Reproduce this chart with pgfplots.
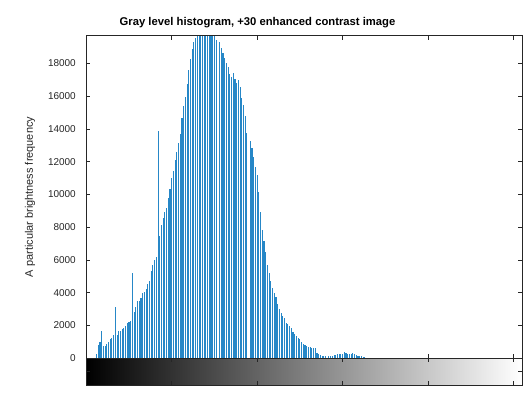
\documentclass[border=0pt]{standalone}
\usepackage{pgfplots}
\pgfplotsset{compat=1.18}
\usepackage{pgfplotstable}
\usepackage{fontspec}
\setmainfont{Liberation Sans}

\definecolor{mblue}{rgb}{0,0.447,0.741}
\definecolor{axgray}{rgb}{0.15,0.15,0.15}

% gray level vs. count
\pgfplotstableread{
g v
0 0
1 0
2 0
3 0
4 0
5 0
6 260
7 790
8 975
9 1680
10 750
11 780
12 900
13 1010
14 1160
15 1240
16 1400
17 3110
18 1440
19 1650
20 1670
21 1790
22 1870
23 1970
24 2130
25 2210
26 2290
27 5200
28 2840
29 3150
30 3510
31 3490
32 3680
33 4000
34 4040
35 4200
36 4530
37 4700
38 5300
39 5690
40 5990
41 6160
42 13860
43 7460
44 8130
45 8530
46 8900
47 9180
48 9800
49 10310
50 11020
51 11420
52 12100
53 12610
54 13120
55 13690
56 14640
57 15400
58 15960
59 16740
60 17590
61 18240
62 18870
63 19280
64 19520
65 19680
66 19680
67 19680
68 19680
69 19680
70 19680
71 19680
72 19680
73 19680
74 19680
75 19680
76 19410
77 0
78 19270
79 18900
80 18640
81 18300
82 17990
83 17750
84 17340
85 17140
86 17380
87 17010
88 16810
89 16970
90 16570
91 15860
92 15450
93 14780
94 13760
95 0
96 13260
97 12810
98 12300
99 11700
100 11180
101 10170
102 8910
103 7830
104 7180
105 6500
106 5690
107 5220
108 4730
109 4270
110 3960
111 3720
112 3310
113 3010
114 2740
115 2580
116 2440
117 2130
118 2090
119 1970
120 1830
121 1630
122 1480
123 1360
124 1220
125 1160
126 1000
127 900
128 820
129 760
130 700
131 660
132 620
133 610
134 600
135 340
136 250
137 190
138 150
139 150
140 150
141 0
142 130
143 130
144 130
145 190
146 190
147 250
148 250
149 250
150 250
151 370
152 330
153 290
154 290
155 250
156 350
157 250
158 190
159 170
160 150
161 130
162 80
163 50
164 20
}\histdata

\begin{document}
\begin{tikzpicture}
\begin{axis}[
    name=main,
    at={(0,0)}, anchor=south west,
    width=435.7bp, height=322.6bp, scale only axis,
    xmin=0, xmax=255, ymin=0, ymax=19680,
    xtick={0,50,...,250}, xticklabels={},
    ytick={0,2000,...,18000},
    scaled y ticks=false,
    yticklabel style={/pgf/number format/1000 sep={}, xshift=-7bp},
    /pgf/number format/assume math mode=true,
    tick align=inside, tick pos=both,
    major tick length=4bp,
    axis line style={axgray, line width=0.5bp},
    tick style={axgray, line width=0.5bp},
    ticklabel style={font=\fontsize{10}{12}\selectfont, text=axgray},
    ylabel={A particular brightness frequency},
    ylabel style={font=\fontsize{11}{13}\selectfont, text=axgray,
        at={(axis description cs:-0.129,0.5)}, anchor=center},
    title={Gray level histogram, +30 enhanced contrast image},
    title style={font=\bfseries\fontsize{11.3}{13}\selectfont,
        at={(axis description cs:0.393,1)}, anchor=south, yshift=-2bp},
]
\addplot[ycomb, mblue!85!white, line width=1.1bp] table[x=g, y=v] {\histdata};
\end{axis}
\begin{axis}[
    at={(main.south west)}, anchor=north west,
    width=435.7bp, height=26.7bp, scale only axis,
    xmin=0, xmax=255, ymin=0, ymax=1,
    xtick={0,50,...,250}, ytick={0.5},
    xticklabels={}, yticklabels={},
    tick align=inside, tick pos=both,
    major tick length=4bp,
    axis line style={axgray, line width=0.5bp},
    tick style={axgray, line width=0.5bp},
    axis on top,
]
\addplot[draw=none, left color=black, right color=white]
    coordinates {(0,0) (255,0) (255,1) (0,1)} -- cycle;
\end{axis}
\pgfresetboundingbox
\path[use as bounding box] (-86.3bp,-34.7bp) rectangle (442.7bp,358.3bp);
\end{tikzpicture}
\end{document}
